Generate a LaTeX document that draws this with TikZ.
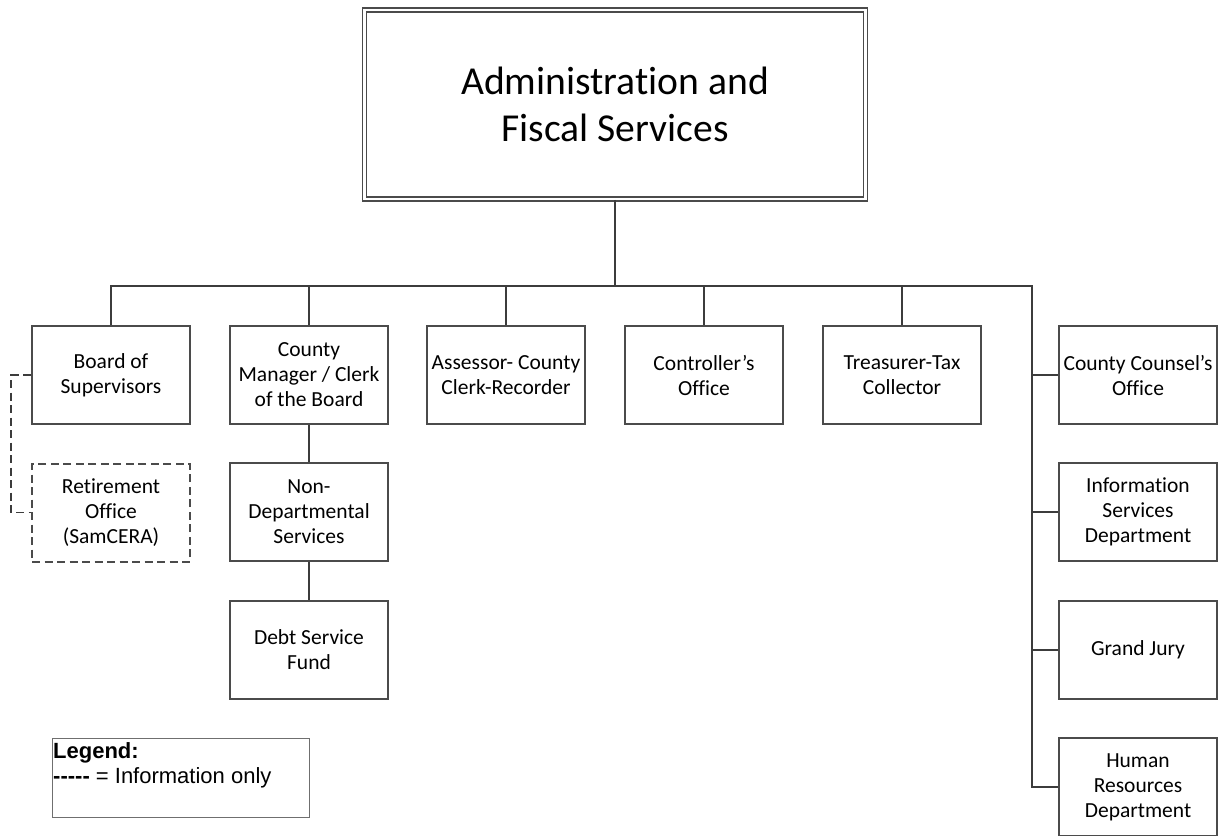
\documentclass[tikz,border=0pt]{standalone}
\usepackage{fontspec}
\setmainfont{Carlito}[RawFeature={-liga;-clig;-calt;-dlig}]
\newfontfamily\legendfont{Liberation Sans}
\definecolor{linegray}{RGB}{60,60,60}
\definecolor{boxgray}{RGB}{75,75,75}
\begin{document}
\begin{tikzpicture}[x=1pt,y=-1pt,
  unitbox/.style={draw=boxgray, line width=1.6pt, minimum width=158pt, minimum height=98pt,
    align=center, inner sep=3pt, font=\fontsize{21.5}{25}\selectfont},
  infobox/.style={unitbox, dash pattern=on 8pt off 4.5pt, line width=2pt},
  link/.style={draw=linegray, line width=2pt},
  infolink/.style={draw=linegray, line width=1.8pt, dash pattern=on 8pt off 4.5pt}]
\useasboundingbox (0,0) rectangle (1220,835);

% top unit
\node[draw=boxgray, double, line width=1.5pt, double distance=2.2pt,
  minimum width=501pt, minimum height=189pt, align=center, inner sep=0pt,
  font=\fontsize{39.6}{47.5}\selectfont] (title) at (615,104.5)
  {Administration and\\Fiscal Services};

% first row of departments
\node[unitbox] (board) at (111,375) {Board of\\Supervisors};
\node[unitbox] (cm) at (309,375) {County\\Manager / Clerk\\of the Board};
\node[unitbox] (assessor) at (506,375) {Assessor- County\\Clerk-Recorder};
\node[unitbox] (controller) at (704,375) {Controller’s\\Office};
\node[unitbox] (treasurer) at (902,375) {Treasurer-Tax\\Collector};

% under the County Manager
\node[unitbox] (nondep) at (309,512) {Non-\\Departmental\\Services};
\node[unitbox] (debt) at (309,650) {Debt Service\\Fund};

% information-only unit
\node[infobox] (ret) at (111,512.5) {Retirement\\Office\\(SamCERA)};

% right-hand column
\node[unitbox] (cc) at (1138,375) {County Counsel’s\\Office};
\node[unitbox] (is) at (1138,512) {Information\\Services\\Department};
\node[unitbox] (gj) at (1138,650) {Grand Jury};
\node[unitbox] (hr) at (1138,787) {Human\\Resources\\Department};

% bus
\coordinate (busR) at (1032,286);
\draw[link] (title.south) -- (title.south |- busR);
\draw[link] (board.north) |- (busR) |- (hr.west);
\draw[link] (cm.north) -- (cm.north |- busR);
\draw[link] (assessor.north) -- (assessor.north |- busR);
\draw[link] (controller.north) -- (controller.north |- busR);
\draw[link] (treasurer.north) -- (treasurer.north |- busR);
\draw[link] (cc.west) -- (cc.west -| busR);
\draw[link] (is.west) -- (is.west -| busR);
\draw[link] (gj.west) -- (gj.west -| busR);
\draw[link] (cm.south) -- (nondep.north);
\draw[link] (nondep.south) -- (debt.north);
\draw[infolink] (board.west) -- ++(-20,0) |- (ret.west);

% legend
\node[draw=boxgray!80, line width=1.2pt, minimum width=257pt, minimum height=79pt,
  anchor=north west, inner sep=0pt] (legend) at (52,738) {};
\node[anchor=north west, inner sep=0pt, align=left,
  font=\legendfont\fontsize{22}{25}\selectfont] (legendtext) at (53,742.5)
  {\textbf{Legend:}\\\textbf{-----} = Information only};
\end{tikzpicture}
\end{document}
